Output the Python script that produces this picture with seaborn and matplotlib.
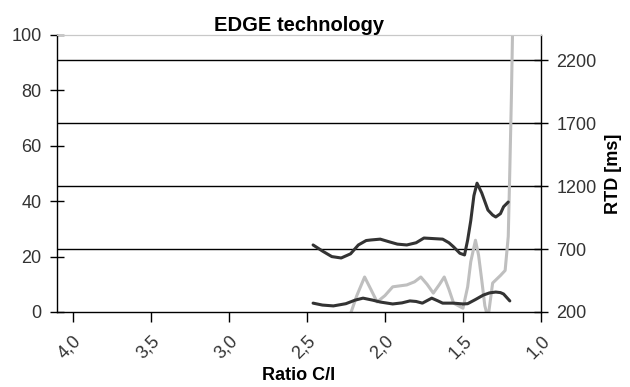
import matplotlib
matplotlib.use("Agg")
import matplotlib.pyplot as plt
import seaborn as sns
import pandas as pd
from matplotlib.ticker import FuncFormatter

sns.set_style("ticks")
plt.rcParams['font.family'] = ['Liberation Sans', 'DejaVu Sans']

# Upper dark series (left axis)
upper_x = [2.46, 2.40, 2.34, 2.28, 2.22, 2.17, 2.12, 2.09, 2.03, 1.97, 1.92, 1.86, 1.80, 1.75,
           1.69, 1.63, 1.59, 1.56, 1.52, 1.49, 1.47, 1.45, 1.43, 1.41, 1.38, 1.34, 1.31, 1.29,
           1.26, 1.24, 1.21]
upper_y = [24.2, 22.0, 20.0, 19.5, 21.0, 24.2, 25.8, 26.0, 26.3, 25.3, 24.5, 24.2, 25.0, 26.7,
           26.5, 26.3, 25.0, 23.5, 21.2, 20.6, 26.0, 33.0, 42.0, 46.5, 43.0, 36.8, 35.0, 34.3,
           35.5, 38.0, 39.7]

# Lower dark series (left axis)
lower_x = [2.46, 2.40, 2.33, 2.25, 2.19, 2.14, 2.08, 2.03, 1.95, 1.89, 1.84, 1.80, 1.76, 1.70,
           1.66, 1.63, 1.56, 1.50, 1.47, 1.42, 1.37, 1.33, 1.29, 1.26, 1.24, 1.20]
lower_y = [3.2, 2.5, 2.2, 3.0, 4.3, 5.0, 4.3, 3.6, 2.9, 3.3, 4.0, 3.8, 3.2, 5.0,
           4.0, 3.2, 3.2, 2.9, 3.0, 4.5, 6.1, 6.9, 7.2, 7.0, 6.5, 4.0]

# RTD series (right axis, ms)
rtd_x = [2.46, 2.35, 2.23, 2.18, 2.13, 2.09, 2.05, 2.00, 1.95, 1.86, 1.81, 1.77, 1.73, 1.69,
         1.65, 1.62, 1.59, 1.56, 1.50, 1.47, 1.45, 1.42, 1.40, 1.38, 1.36, 1.34, 1.31, 1.26,
         1.23, 1.21, 1.20, 1.19, 1.18]
rtd_y = [150, 150, 150, 330, 478, 380, 280, 330, 400, 415, 440, 478, 420, 350,
         420, 478, 380, 270, 230, 400, 600, 770, 650, 455, 250, 150, 430, 490,
         530, 800, 1330, 1900, 2600]

categories = ["Ratio C/I", "RTD [ms]"]
x_ticks = [4.0, 3.5, 3.0, 2.5, 2.0, 1.5, 1.0]
left_ticks = [0, 20, 40, 60, 80, 100]
right_ticks = [200, 700, 1200, 1700, 2200]

fig = plt.figure(figsize=(6.3, 3.87), dpi=100)
ax = fig.add_axes([0.0905, 0.1938, 0.7683, 0.7158])
ax2 = ax.twinx()

dark = "#333333"
light = "#bfbfbf"

# gridlines at the right-axis ticks
for t in right_ticks[1:]:
    ax2.axhline(t, color="black", lw=1.0, zorder=0)

sns.lineplot(x=rtd_x, y=rtd_y, ax=ax2, color=light, lw=2.2, sort=False, estimator=None)
sns.lineplot(x=upper_x, y=upper_y, ax=ax, color=dark, lw=2.2, sort=False, estimator=None)
sns.lineplot(x=lower_x, y=lower_y, ax=ax, color=dark, lw=2.2, sort=False, estimator=None)

ax.set_zorder(ax2.get_zorder() + 1)
ax.patch.set_visible(False)

ax.set_xlim(4.1, 1.0)
ax.set_ylim(0, 100)
ax2.set_ylim(200, 2400)
ax.set_xticks(x_ticks)
ax.xaxis.set_major_formatter(FuncFormatter(lambda v, p: f"{v:.1f}".replace(".", ",")))
ax.set_yticks(left_ticks)
ax2.set_yticks(right_ticks)

tc = "#333333"
fs = 13
ax.tick_params(axis='x', direction='out', length=7, width=1, colors='black', labelcolor=tc,
               labelsize=fs, pad=8)
ax.tick_params(axis='y', direction='inout', length=10, width=1, colors='black', labelcolor=tc,
               labelsize=fs, pad=6)
ax2.tick_params(axis='y', direction='inout', length=10, width=1, colors='black', labelcolor=tc,
                labelsize=fs, pad=6)
for lbl in ax.get_xticklabels():
    lbl.set_rotation(45)
    lbl.set_ha('right')
    lbl.set_rotation_mode('anchor')

for a in (ax, ax2):
    for s in ['left', 'right', 'bottom']:
        a.spines[s].set_color('black')
        a.spines[s].set_linewidth(1.0)
    a.spines['top'].set_color('#c8c8c8')
    a.spines['top'].set_visible(True)
ax.spines['right'].set_visible(False)
ax2.spines['left'].set_visible(False)
ax2.spines['bottom'].set_visible(False)

ax.set_xlabel(categories[0], fontsize=13, fontweight='bold', color='black', labelpad=3)
ax2.set_ylabel(categories[1], fontsize=13, fontweight='bold', color='black', labelpad=6)
ax.set_title("EDGE technology", fontsize=14.5, fontweight='bold', color='black', pad=2)

fig.savefig("out.png", dpi=100)
